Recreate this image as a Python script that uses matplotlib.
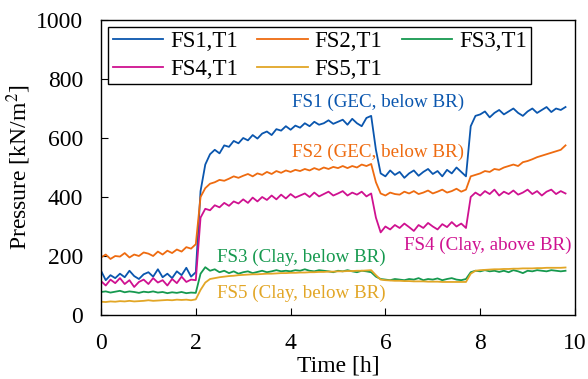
import numpy as np
import matplotlib
matplotlib.use("Agg")
import matplotlib.pyplot as plt

plt.rcParams['font.family'] = ['Liberation Serif', 'DejaVu Serif']
plt.rcParams['mathtext.fontset'] = 'stix'

# time axis, sampled every 0.1 h
time_h = np.linspace(0, 9.8, 99)

fs1 = [150, 118, 135, 125, 140, 128, 150, 132, 122, 138, 145, 130, 155, 128, 140, 125, 148, 135, 160, 130, 145,
       420, 510, 545, 560, 548, 575, 570, 590, 582, 600, 592, 610, 598, 615, 622, 610, 630, 625, 640, 628,
       642, 635, 650, 640, 655, 645, 650, 660, 648, 655, 662, 645, 665, 650, 640, 668, 675,
       560, 480, 470, 490, 475, 485, 465, 480, 490, 472, 485, 495, 478, 488, 470, 492, 480, 500, 485, 470,
       640, 675, 680, 690, 670, 685, 695, 680, 690, 700, 685, 675, 690, 700, 685, 695, 705, 688, 700, 695, 705]

fs2 = [195, 205, 190, 200, 198, 210, 195, 205, 200, 212, 208, 200, 215, 205, 218, 210, 222, 215, 230, 225, 240,
       400, 430, 445, 450, 458, 455, 462, 470, 465, 472, 478, 470, 480, 475, 485, 478, 488, 482, 490, 485,
       492, 488, 495, 490, 498, 492, 500, 495, 502, 498, 505, 498, 505, 500, 510, 505, 512,
       450, 412, 405, 415, 410, 408, 418, 412, 420, 410, 415, 422, 412, 418, 425, 415, 420, 428, 418, 425,
       470, 475, 480, 488, 485, 495, 492, 500, 505, 510, 505, 518, 522, 528, 535, 540, 545, 550, 555, 560, 575]

fs3 = [78, 80, 76, 79, 82, 77, 80, 78, 75, 79, 77, 80, 76, 78, 74, 77, 75, 78, 74, 76, 75,
       140, 162, 150, 155, 145, 150, 142, 148, 140, 145, 148, 142, 146, 150, 145, 148, 152, 148, 150, 148,
       152, 150, 155, 150, 148, 152, 150, 148, 145, 150, 148, 152, 148, 145, 150, 148, 145,
       130, 122, 120, 118, 122, 120, 118, 122, 120, 125, 118, 122, 120, 124, 118, 122, 125, 120, 118, 122,
       145, 150, 148, 152, 148, 150, 146, 150, 145, 152, 148, 142, 150, 148, 152, 150, 148, 152, 150, 148, 150]

fs4 = [115, 100, 120, 108, 125, 105, 118, 95, 112, 120, 105, 125, 110, 118, 100, 122, 108, 130, 112, 120, 118,
       330, 360, 355, 372, 365, 380, 370, 385, 378, 392, 380, 398, 385, 400, 390, 405, 392, 408, 395, 410,
       398, 405, 412, 400, 415, 402, 410, 418, 405, 412, 420, 405, 415, 408, 418, 402, 412,
       330, 280, 300, 290, 305, 295, 310, 298, 285, 305, 295, 312, 300, 290, 308, 298, 315, 300, 310, 295,
       400, 415, 405, 420, 410, 425, 405, 418, 410, 422, 408, 415, 425, 410, 420, 405, 418, 425, 410, 420, 412]

fs5 = [45, 44, 46, 45, 47, 46, 48, 46, 47, 48, 50, 48, 49, 50, 51, 50, 52, 51, 52, 50, 53,
       85, 110, 122, 125, 128, 130, 132, 133, 135, 136, 137, 138, 138, 139, 140, 140, 141, 142, 142, 143,
       143, 144, 144, 145, 145, 146, 146, 147, 147, 148, 148, 149, 149, 150, 150, 151, 152,
       135, 120, 118, 117, 116, 116, 115, 115, 114, 114, 114, 113, 113, 113, 112, 112, 112, 112, 112, 112,
       140, 150, 152, 153, 154, 155, 155, 156, 156, 157, 157, 158, 158, 158, 159, 159, 160, 160, 160, 160, 161]

names = ['FS1,T1', 'FS2,T1', 'FS3,T1', 'FS4,T1', 'FS5,T1']
colors = ['#0A56AE', '#EE6B10', '#16994F', '#CF1190', '#E2A626']
series = [fs1, fs2, fs3, fs4, fs5]

notes = [('FS1 (GEC, below BR)', 4.04, 722, 0),
         ('FS2 (GEC, below BR)', 4.04, 553, 1),
         ('FS4 (Clay, above BR)', 6.4, 237, 3),
         ('FS3 (Clay, below BR)', 2.44, 197, 2),
         ('FS5 (Clay, below BR)', 2.44, 75, 4)]

fig = plt.figure(figsize=(5.88, 3.79), dpi=100)
ax = fig.add_axes([101 / 588, 64 / 379, 474 / 588, 295 / 379])

lines = []
for vals, name, col in zip(series, names, colors):
    ln, = ax.plot(time_h, vals, color=col, lw=1.3, label=name)
    lines.append(ln)

for txt, x, y, ci in notes:
    ax.text(x, y, txt, color=colors[ci], fontsize=13.7, ha='left', va='center')

ax.set_xlim(0, 10)
ax.set_ylim(0, 1000)
ax.set_xticks(range(0, 11, 2))
ax.set_yticks(range(0, 1001, 200))
ax.tick_params(direction='in', length=5, labelsize=17, top=False, right=False, pad=13)
for sp in ax.spines.values():
    sp.set_linewidth(1.0)
ax.set_xlabel('Time [h]', fontsize=17, labelpad=1)
ax.set_ylabel('Pressure [kN/m$^2$]', fontsize=17, labelpad=2)

order = [0, 3, 1, 4, 2]
leg = ax.legend([lines[i] for i in order], [names[i] for i in order], ncol=3,
                loc='upper left', bbox_to_anchor=(0.015, 0.977), borderaxespad=0,
                fontsize=16.5, handlelength=2.2, columnspacing=0.85, handletextpad=0.3,
                labelspacing=0.28, borderpad=0.2, fancybox=False, framealpha=1)
leg.get_frame().set_edgecolor('black')
leg.get_frame().set_linewidth(1.0)

fig.savefig('out.png', dpi=100)
